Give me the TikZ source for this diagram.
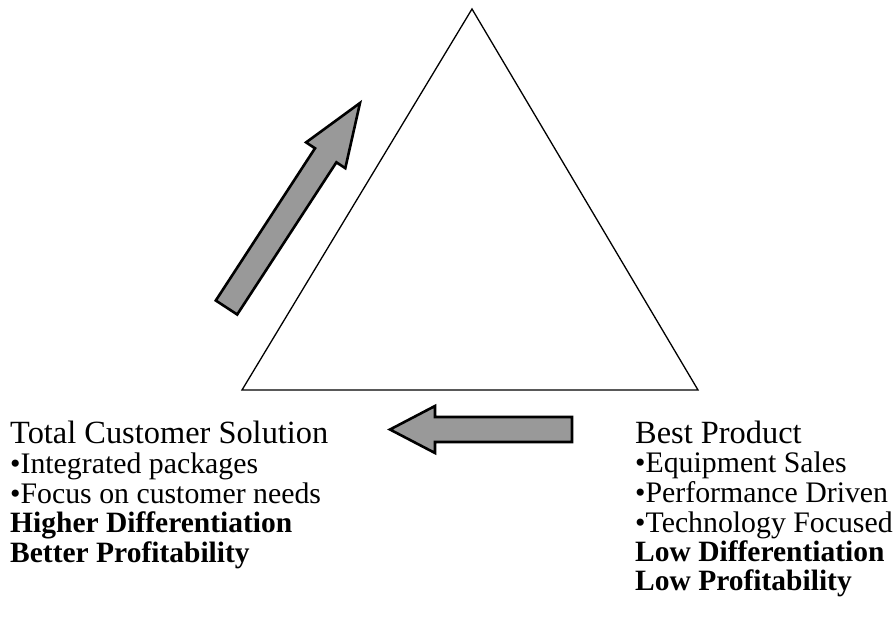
\documentclass[tikz,border=0pt]{standalone}
\usepackage{fontspec}
\setmainfont{Liberation Serif}
\begin{document}
\begin{tikzpicture}[x=1pt,y=-1pt,
  tri/.style={draw=black,line width=1.3pt,line join=miter},
  fatarrow/.style={draw=black,line width=2.6pt,fill=black!40,line join=miter},
  headline/.style={anchor=base west,inner sep=0pt,font=\fontsize{32.4}{34}\selectfont},
  bulletline/.style={anchor=base west,inner sep=0pt,font=\fontsize{29.8}{32}\selectfont},
  boldline/.style={anchor=base west,inner sep=0pt,font=\fontsize{29.5}{32}\selectfont\bfseries}]
\useasboundingbox (0,0) rectangle (895,626);
% triangle
\coordinate (apex) at (472,9);
\coordinate (bl) at (242,390);
\coordinate (br) at (698,390);
\draw[tri] (apex) -- (bl) -- (br) -- cycle;
% diagonal arrow
\coordinate (d1) at (215.8,300.5);
\coordinate (d2) at (237.2,314.5);
\coordinate (d3) at (336.4,162.3);
\coordinate (d4) at (345.3,168.2);
\coordinate (d5) at (360,103);
\coordinate (d6) at (306.1,142.4);
\coordinate (d7) at (315.0,148.3);
\draw[fatarrow] (d1) -- (d2) -- (d3) -- (d4) -- (d5) -- (d6) -- (d7) -- cycle;
% horizontal arrow
\coordinate (h1) at (572,417);
\coordinate (h2) at (572,442);
\coordinate (h3) at (435,442);
\coordinate (h4) at (435,453);
\coordinate (h5) at (390,429.5);
\coordinate (h6) at (435,406);
\coordinate (h7) at (435,417);
\draw[fatarrow] (h1) -- (h2) -- (h3) -- (h4) -- (h5) -- (h6) -- (h7) -- cycle;
% left texts
\node[headline]   (l1) at (10,443) {Total Customer Solution};
\node[bulletline] (l2) at (10,473) {\textbullet Integrated packages};
\node[bulletline] (l3) at (10,503) {\textbullet Focus on customer needs};
\node[boldline]   (l4) at (10,532) {Higher Differentiation};
\node[boldline]   (l5) at (10,562) {Better Profitability};
% right texts
\node[headline]   (r1) at (635,443) {Best Product};
\node[bulletline] (r2) at (635,472) {\textbullet Equipment Sales};
\node[bulletline] (r3) at (635,502) {\textbullet Performance Driven};
\node[bulletline] (r4) at (635,532) {\textbullet Technology Focused};
\node[boldline]   (r5) at (635,561) {Low Differentiation};
\node[boldline]   (r6) at (635,590) {Low Profitability};
\end{tikzpicture}
\end{document}
